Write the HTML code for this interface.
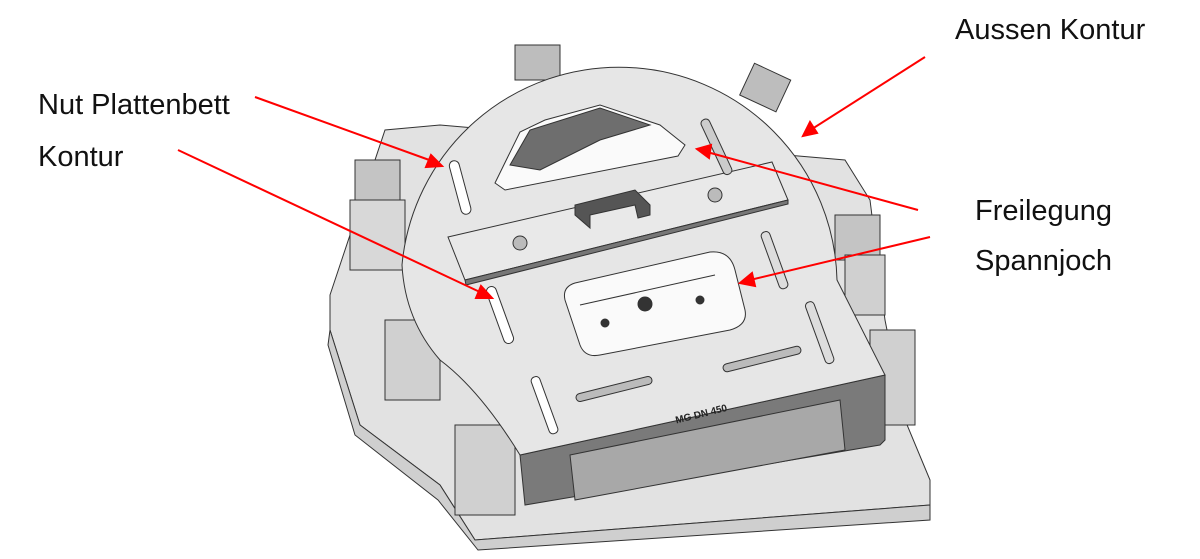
<!DOCTYPE html>
<html><head><style>
html,body{margin:0;padding:0;background:#fff;}
.l{position:absolute;font-family:"Liberation Sans",sans-serif;font-size:29px;color:#111;line-height:32px;}
</style></head><body>
<div style="position:relative;width:1200px;height:559px;overflow:hidden;">
<svg width="1200" height="559" viewBox="0 0 1200 559" style="position:absolute;left:0;top:0">
<g stroke="#333" stroke-width="1">
<polygon points="330,295 385,130 440,125 845,160 870,200 885,320 905,420 930,480 930,505 475,540 440,485 360,425 330,330" fill="#e2e2e2"/>
<polygon points="330,330 360,425 440,485 475,540 930,505 930,520 478,550 438,500 355,435 328,345" fill="#cfcfcf"/>
<rect x="515" y="45" width="45" height="35" fill="#bdbdbd"/>
<rect x="745" y="70" width="40" height="35" fill="#bdbdbd" transform="rotate(25 765 88)"/>
<rect x="355" y="160" width="45" height="45" fill="#c4c4c4"/>
<rect x="350" y="200" width="55" height="70" fill="#d8d8d8"/>
<rect x="385" y="320" width="55" height="80" fill="#d0d0d0"/>
<rect x="835" y="215" width="45" height="45" fill="#c4c4c4"/>
<rect x="845" y="255" width="40" height="60" fill="#d0d0d0"/>
<rect x="870" y="330" width="45" height="95" fill="#d0d0d0"/>
<rect x="455" y="425" width="60" height="90" fill="#d0d0d0"/>
<polygon points="520,455 885,375 885,440 880,445 525,505" fill="#7a7a7a"/>
<polygon points="570,455 840,400 845,450 575,500" fill="#a8a8a8"/>
<path d="M520,455 L885,375 L837,280 A218,218 0 0 0 402,265 Q405,320 440,360 Q480,390 520,455 Z" fill="#e6e6e6"/>
<polygon points="495,183 520,132 545,120 600,105 660,125 685,145 678,156 505,190" fill="#fafafa"/>
<polygon points="510,165 530,130 600,108 650,125 600,140 540,170" fill="#6e6e6e"/>
<polygon points="448,237 772,162 788,200 465,280" fill="#e9e9e9"/>
<polygon points="465,280 788,200 788,204 466,285" fill="#777"/>
<path d="M575,215 L575,205 L635,190 L650,205 L650,215 L638,218 L635,205 L590,215 L590,228 Z" fill="#555"/>
<circle cx="520" cy="243" r="7" fill="#bbb"/><circle cx="715" cy="195" r="7" fill="#bbb"/>
<path d="M575,283 L710,252 Q730,250 735,270 L745,310 Q748,325 730,330 L600,355 Q585,358 580,345 L565,300 Q562,287 575,283 Z" fill="#fafafa"/>
<line x1="580" y1="305" x2="715" y2="275"/>
<circle cx="645" cy="304" r="7" fill="#333"/>
<circle cx="605" cy="323" r="4" fill="#333"/><circle cx="700" cy="300" r="4" fill="#333"/>
<rect x="455" y="160" width="10" height="55" rx="5" fill="#fff" transform="rotate(-15 460 187)"/>
<rect x="495" y="285" width="10" height="60" rx="5" fill="#fff" transform="rotate(-20 500 315)"/>
<rect x="540" y="375" width="9" height="60" rx="4" fill="#fff" transform="rotate(-20 545 405)"/>
<rect x="770" y="230" width="9" height="60" rx="4" fill="#ddd" transform="rotate(-20 775 260)"/>
<rect x="815" y="300" width="9" height="65" rx="4" fill="#ddd" transform="rotate(-20 820 332)"/>
<rect x="712" y="117" width="9" height="60" rx="4" fill="#ccc" transform="rotate(-25 716 147)"/>
<rect x="575" y="385" width="78" height="8" rx="4" fill="#bbb" transform="rotate(-14 614 389)"/>
<rect x="722" y="355" width="80" height="8" rx="4" fill="#bbb" transform="rotate(-14 762 359)"/>
</g>
<text x="675" y="420" font-family="Liberation Sans,sans-serif" font-size="10" font-weight="bold" fill="#222" transform="rotate(-14 690 416)">MG DN 450</text>
<g stroke="#f00" stroke-width="2" fill="#f00">
<line x1="255" y1="97" x2="432" y2="161"/><polygon points="442,166 426,167 431,155"/>
<line x1="178" y1="150" x2="482" y2="293"/><polygon points="492,298 476,298 481,286"/>
<line x1="925" y1="57" x2="812" y2="129"/><polygon points="803,136 810,122 817,133"/>
<line x1="918" y1="210" x2="707" y2="152"/><polygon points="697,149 711,145 709,158"/>
<line x1="930" y1="237" x2="750" y2="280"/><polygon points="740,283 752,273 755,286"/>
</g>
</svg>
<div class="l" style="left:955px;top:14px">Aussen Kontur</div>
<div class="l" style="left:38px;top:89px">Nut Plattenbett</div>
<div class="l" style="left:38px;top:141px">Kontur</div>
<div class="l" style="left:975px;top:195px">Freilegung</div>
<div class="l" style="left:975px;top:245px">Spannjoch</div>
</div>
</body></html>
